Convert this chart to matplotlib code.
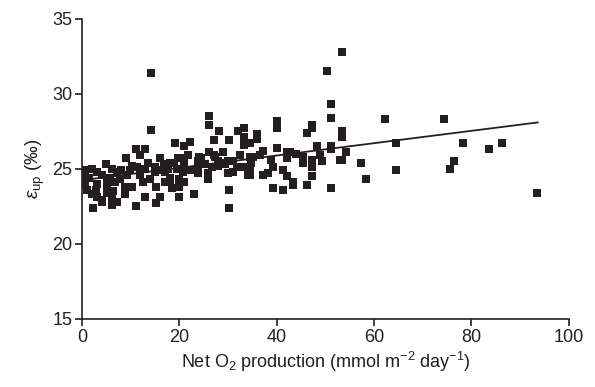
import matplotlib
matplotlib.use('Agg')
import matplotlib.pyplot as plt

plt.rcParams['font.family'] = ['Liberation Sans', 'DejaVu Sans']
plt.rcParams['mathtext.fontset'] = 'custom'
plt.rcParams['mathtext.rm'] = 'Liberation Sans'
plt.rcParams['mathtext.it'] = 'Liberation Sans:italic'

# Net O2 production vs eps_up
net_o2 = [
    0.3, 0.3, 0.3, 0.3, 0.6, 0.6, 1.0, 2.1, 2.1, 2.3, 3.1, 3.1, 3.1, 4.1, 4.1,
    4.9, 5.1, 5.1, 5.1, 6.2, 6.2, 6.2, 6.4, 6.8, 7.2, 7.2, 7.8, 8.8, 8.8, 9.0,
    9.2, 10.3, 10.3, 11.1, 11.1, 11.3, 11.9, 12.5, 12.9, 12.9, 12.9, 14.0, 14.2, 14.2, 15.0,
    15.0, 15.2, 15.2, 16.0, 16.0, 16.0, 17.0, 17.0, 17.7, 18.1, 18.1, 18.1, 18.5, 18.9, 19.1,
    19.5, 19.7, 19.9, 19.9, 19.9, 20.7, 20.9, 20.9, 20.9, 21.8, 22.2, 22.2, 23.0, 23.8, 23.8,
    23.8, 24.5, 25.3, 25.9, 25.9, 26.1, 26.1, 26.1, 26.7, 27.1, 27.1, 27.9, 27.9, 28.1, 28.3,
    29.4, 30.0, 30.2, 30.2, 30.2, 30.0, 31.0, 31.0, 31.8, 32.0, 32.9, 33.3, 33.3, 33.3, 34.1,
    34.1, 34.5, 34.5, 34.5, 34.5, 34.7, 35.1, 35.9, 35.9, 35.9, 37.2, 37.2, 38.2, 39.2, 39.2,
    40.0, 40.0, 40.0, 41.3, 41.3, 42.1, 42.1, 42.1, 42.7, 43.3, 43.3, 45.4, 45.4, 46.2, 46.2,
    47.2, 47.2, 47.2, 47.2, 47.2, 48.2, 49.3, 50.3, 51.1, 51.1, 51.1, 51.1, 51.1, 53.0, 53.4,
    53.4, 53.4, 53.4, 54.2, 57.3, 58.3, 62.2, 64.5, 64.5, 74.3, 75.6, 76.4, 78.2, 83.6, 86.2,
    93.4,
    1.5, 2.8, 4.0, 5.8, 8.0, 9.8, 11.8, 13.6, 16.8, 21.0, 24.0, 27.3, 29.0, 32.4, 36.6,
    38.8, 44.0, 48.8,
]
eps_up = [
    24.9, 24.5, 24.2, 23.9, 24.5, 24.1, 23.6, 25.0, 23.3, 22.4, 24.8, 24.0, 23.1, 22.9, 22.8,
    25.3, 24.1, 23.7, 23.4, 25.0, 23.1, 22.6, 23.5, 24.1, 24.8, 22.8, 24.3, 23.8, 23.3, 25.7,
    24.6, 25.2, 23.8, 26.3, 22.5, 25.1, 25.9, 24.1, 26.3, 25.0, 23.1, 24.3, 31.4, 27.6, 25.1,
    24.8, 23.8, 22.7, 25.7, 24.9, 23.1, 24.8, 24.1, 25.0, 25.4, 24.4, 24.1, 23.7, 25.4, 26.7,
    25.0, 25.7, 24.3, 23.8, 23.1, 24.8, 26.5, 25.7, 24.1, 25.9, 26.8, 24.9, 23.3, 25.5, 25.0,
    24.7, 25.7, 25.3, 24.7, 24.3, 28.5, 27.9, 26.1, 25.1, 26.9, 25.9, 25.5, 25.2, 27.5, 25.4,
    25.3, 24.7, 26.9, 23.6, 22.4, 25.5, 25.5, 24.8, 25.1, 27.5, 25.1, 27.7, 27.1, 26.6, 25.0,
    24.6, 26.7, 25.8, 25.1, 24.6, 25.4, 25.8, 27.3, 27.0, 27.1, 26.2, 24.6, 24.7, 25.1, 23.7,
    28.2, 27.7, 26.4, 24.9, 23.6, 26.1, 25.7, 24.5, 26.1, 24.1, 23.9, 25.8, 25.4, 27.4, 23.9,
    27.9, 27.7, 25.6, 25.1, 24.5, 26.5, 25.5, 31.5, 29.3, 28.4, 26.5, 26.3, 23.7, 25.6, 32.8,
    27.5, 27.1, 25.6, 26.1, 25.4, 24.3, 28.3, 26.7, 24.9, 28.3, 25.0, 25.5, 26.7, 26.3, 26.7,
    23.4,
    24.4, 23.6, 24.6, 24.4, 24.9, 24.9, 24.6, 25.4, 25.3, 25.3, 25.8, 25.8, 26.1, 25.9, 25.9,
    25.6, 26.0, 25.9,
]

# regression line end points
fit_x = [0, 93.6]
fit_y = [24.25, 28.1]

fig = plt.figure(figsize=(5.95, 3.87), dpi=100)
ax = fig.add_axes([0.138, 0.176, 0.818, 0.775])

ax.scatter(net_o2, eps_up, marker='s', s=28, color='#231f20', linewidths=0, zorder=3)
ax.plot(fit_x, fit_y, color='#231f20', lw=1.3, zorder=2)

ax.set_xlim(0, 100)
ax.set_ylim(15, 35)
ax.set_xticks([0, 20, 40, 60, 80, 100])
ax.set_yticks([15, 20, 25, 30, 35])

for side in ('top', 'right'):
    ax.spines[side].set_visible(False)
for side in ('left', 'bottom'):
    ax.spines[side].set_linewidth(1.2)
    ax.spines[side].set_color('#231f20')

ax.tick_params(direction='out', length=5, width=1.2, color='#231f20',
               labelsize=13, labelcolor='#231f20', pad=2)

ax.set_xlabel(r'Net O$_2$ production (mmol m$^{-2}$ day$^{-1}$)', fontsize=13,
              color='#231f20', labelpad=3)
ax.set_ylabel(r'$\varepsilon_{\mathrm{up}}$ (‰)', fontsize=13.5, color='#231f20',
              labelpad=4)

fig.savefig('out.png', dpi=100)
